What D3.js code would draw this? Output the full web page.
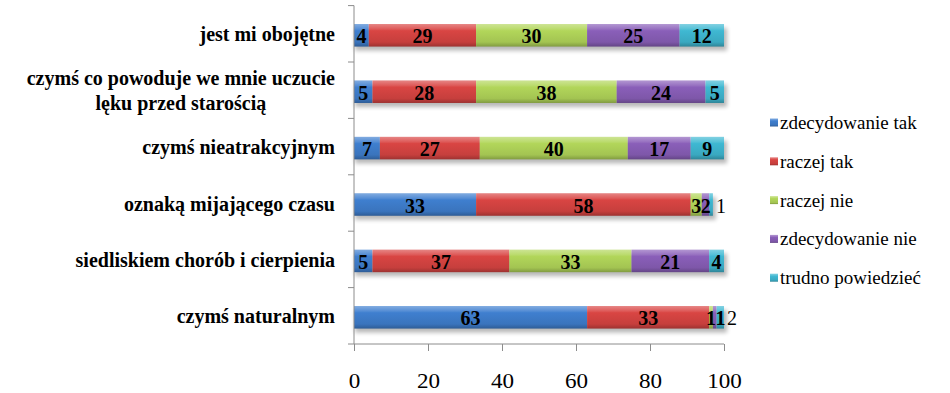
<!DOCTYPE html>
<html>
<head>
<meta charset="utf-8">
<script src="https://cdn.jsdelivr.net/npm/d3@7"></script>
</head>
<body style="margin:0;padding:0;background:#fff">
<svg id="chart" width="950" height="393" style="display:block"></svg>
<script>
// Categories, top to bottom (lines split with "\n")
const categories = [
  "jest mi obojętne",
  "czymś co powoduje we mnie uczucie\nlęku przed starością",
  "czymś nieatrakcyjnym",
  "oznaką mijającego czasu ",
  "siedliskiem chorób i cierpienia",
  "czymś naturalnym"
];
const seriesNames = ["zdecydowanie tak", "raczej tak", "raczej nie", "zdecydowanie nie", "trudno powiedzieć"];
const zdecydowanieTak = [4, 5, 7, 33, 5, 63];
const raczejTak       = [29, 28, 27, 58, 37, 33];
const raczejNie       = [30, 38, 40, 3, 33, 1];
const zdecydowanieNie = [25, 24, 17, 2, 21, 1];
const trudnoPowiedziec = [12, 5, 9, 1, 4, 2];
const xTicks = [0, 20, 40, 60, 80, 100];

const seriesValues = [zdecydowanieTak, raczejTak, raczejNie, zdecydowanieNie, trudnoPowiedziec];
const colors = ["#3f7fcf", "#d94543", "#b2d65a", "#8a5fb9", "#3fb8d2"];
const SERIF = "Times New Roman";

const svg = d3.select("#chart");
const defs = svg.append("defs");

// Serif text helper
function serif(sel) {
  return sel.style("font-family", SERIF);
}

// Bevel-like vertical gradients per series
colors.forEach((c, i) => {
  const base = d3.color(c);
  const g = defs.append("linearGradient").attr("id", "grad" + i)
    .attr("x1", 0).attr("y1", 0).attr("x2", 0).attr("y2", 1);
  g.append("stop").attr("offset", "0%").attr("stop-color", d3.interpolateRgb(c, "#fff")(0.35));
  g.append("stop").attr("offset", "22%").attr("stop-color", d3.interpolateRgb(c, "#fff")(0.12));
  g.append("stop").attr("offset", "30%").attr("stop-color", c);
  g.append("stop").attr("offset", "80%").attr("stop-color", base.darker(0.25));
  g.append("stop").attr("offset", "100%").attr("stop-color", base.darker(0.9));
});
const shadow = defs.append("filter").attr("id", "shadow")
  .attr("x", "-5%").attr("y", "-50%").attr("width", "110%").attr("height", "200%");
shadow.append("feGaussianBlur").attr("stdDeviation", 2);

const x = d3.scaleLinear().domain([0, 100]).range([354, 724]);
const y = d3.scaleBand().domain(categories).range([5.6, 344])
  .paddingInner(0.6).paddingOuter(0.3);

// Stack the series per category
const rows = categories.map((cat, ci) => {
  let acc = 0;
  return seriesValues.map((vals, si) => {
    const seg = { cat, si, v: vals[ci], x0: acc, x1: acc + vals[ci] };
    acc += vals[ci];
    return seg;
  });
});

const barOffset = 1.5;
const plot = svg.append("g");

// Shadows under each bar
plot.selectAll("rect.shadow").data(rows).join("rect")
  .attr("class", "shadow")
  .attr("x", r => x(r[0].x0) + 1)
  .attr("y", (r, i) => y(categories[i]) + barOffset + 4)
  .attr("width", r => x(r[r.length - 1].x1) - x(r[0].x0) + 2)
  .attr("height", y.bandwidth())
  .attr("fill", "#000").attr("opacity", 0.28)
  .attr("filter", "url(#shadow)");

// Segments
const segs = rows.flat();
plot.selectAll("rect.seg").data(segs).join("rect")
  .attr("class", "seg")
  .attr("x", d => x(d.x0))
  .attr("y", d => y(d.cat) + barOffset)
  .attr("width", d => Math.max(0, x(d.x1) - x(d.x0)))
  .attr("height", y.bandwidth())
  .attr("fill", d => `url(#grad${d.si})`);

// Axes
const axisColor = "#8c8c8c";
const yAxis = svg.append("g");
yAxis.append("line").attr("x1", 354).attr("x2", 354).attr("y1", 5.6).attr("y2", 344)
  .attr("stroke", axisColor);
const bounds = categories.map(c => y(c) - y.step() * y.paddingInner() / 2);
bounds.push(344);
yAxis.selectAll("line.tk").data(bounds).join("line").attr("class", "tk")
  .attr("x1", 348).attr("x2", 354).attr("y1", d => d).attr("y2", d => d)
  .attr("stroke", axisColor);

const xAxis = svg.append("g").attr("transform", "translate(0,344)")
  .call(d3.axisBottom(x).tickValues(xTicks).tickSize(7).tickPadding(0).tickFormat(d3.format("d")));
xAxis.select(".domain").attr("stroke", axisColor).attr("d", `M${x(0)},0H${x(100)}`);
xAxis.selectAll(".tick line").attr("stroke", axisColor);
serif(xAxis.selectAll(".tick text"))
  .attr("y", 0).attr("dy", 0)
  .attr("transform", "translate(0,44) scale(1.1,1)")
  .attr("font-size", 21).attr("fill", "#000");

// Category labels: right-aligned block, lines centred within the block
const catG = svg.append("g");
categories.forEach(cat => {
  const lines = cat.split("\n");
  const cy = y(cat) + y.bandwidth() / 2 + barOffset;
  const lh = 25;
  const g = catG.append("g");
  const texts = lines.map(ln => serif(g.append("text"))
    .text(ln)
    .attr("font-size", 20).attr("font-weight", "bold").attr("fill", "#000")
    .attr("text-anchor", "middle"));
  const maxW = d3.max(texts, t => t.node().getComputedTextLength());
  const cx = 335 - maxW / 2;
  texts.forEach((t, i) => {
    const ty = cy + (i - (lines.length - 1) / 2) * lh + 6;
    t.attr("x", cx).attr("y", ty);
  });
});

// Value labels, centred on segments; crowded labels shift right
const lblG = svg.append("g");
rows.forEach((r, ci) => {
  let prevRight = -Infinity;
  const cy = y(categories[ci]) + y.bandwidth() / 2 + barOffset + 1;
  const barEnd = x(r[r.length - 1].x1);
  r.forEach(d => {
    const t = serif(lblG.append("text")).text(d.v)
      .attr("font-size", 20).attr("font-weight", "bold").attr("fill", "#000")
      .attr("text-anchor", "middle").attr("dominant-baseline", "central");
    const w = t.node().getComputedTextLength();
    let cx = x((d.x0 + d.x1) / 2);
    if (cx - w / 2 < prevRight) cx = prevRight + w / 2;
    if (cx > barEnd) {
      t.attr("font-weight", "normal");
      cx = Math.max(cx, barEnd + w / 2 + 3);
    }
    t.attr("x", cx).attr("y", cy);
    prevRight = cx + w / 2 - 0.5;
  });
});

// Legend
const legend = svg.append("g");
seriesNames.forEach((name, i) => {
  const ly = 123 + i * 38.8;
  legend.append("rect").attr("x", 770).attr("y", ly - 4.5).attr("width", 8).attr("height", 8)
    .attr("fill", `url(#grad${i})`);
  serif(legend.append("text")).text(name)
    .attr("x", 780).attr("y", ly + 6)
    .attr("font-size", 19).attr("fill", "#000");
});
</script>
</body>
</html>
